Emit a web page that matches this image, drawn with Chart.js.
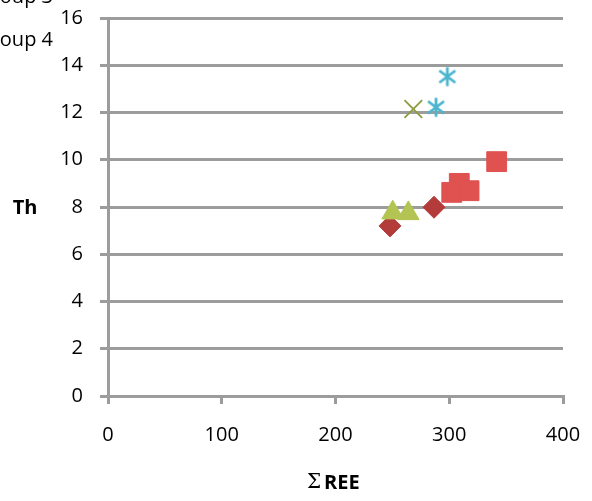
<!DOCTYPE html>
<html>
<head>
<meta charset="utf-8">
<script src="https://cdn.jsdelivr.net/npm/chart.js@4/dist/chart.umd.min.js"></script>
<style>
  html, body { margin: 0; padding: 0; background: #fff; overflow: hidden; }
  canvas { display: block; }
</style>
</head>
<body>
<canvas id="chart" width="592" height="501"></canvas>
<script>
// values
const groupNames = ["Group 1", "Group 2", "Group 3", "Group 4", "Group 5"];
const group1Ree = [247.9, 286.6];
const group1Th = [7.2, 7.99];
const group2Ree = [308.8, 302.2, 317.4, 341.7];
const group2Th = [9.0, 8.62, 8.69, 9.92];
const group3Ree = [250.3, 264.0];
const group3Th = [7.76, 7.73];
const group4Ree = [268.4];
const group4Th = [12.15];
const group5Ree = [288.4, 298.3];
const group5Th = [12.22, 13.52];
const xTicks = [0, 100, 200, 300, 400];
const yTicks = [0, 2, 4, 6, 8, 10, 12, 14, 16];

const FONT = "'Open Sans', Lato, sans-serif";
const GRID = "#9c9c9c";

function pairs(xs, ys) {
  return xs.map((x, i) => ({ x, y: ys[i] }));
}

// excel style asterisk: vertical bar plus an x
function asterisk(color) {
  const c = document.createElement("canvas");
  c.width = 22; c.height = 22;
  const g = c.getContext("2d");
  g.strokeStyle = color;
  g.lineWidth = 2.8;
  g.beginPath();
  g.moveTo(11, 1.5); g.lineTo(11, 20.5);
  g.moveTo(3, 5); g.lineTo(19, 17);
  g.moveTo(19, 5); g.lineTo(3, 17);
  g.stroke();
  return c;
}

const datasets = [
  { label: groupNames[0], data: pairs(group1Ree, group1Th), pointStyle: "rectRot", pointRadius: 11,
    backgroundColor: "#b33c3a", borderColor: "#b33c3a", borderWidth: 1, order: 5 },
  { label: groupNames[1], data: pairs(group2Ree, group2Th), pointStyle: "rect", pointRadius: 14,
    backgroundColor: "#df5250", borderColor: "#df5250", borderWidth: 1, order: 4 },
  { label: groupNames[2], data: pairs(group3Ree, group3Th), pointStyle: "triangle", pointRadius: 12.5,
    backgroundColor: "#b4c452", borderColor: "#b4c452", borderWidth: 1, order: 3 },
  { label: groupNames[3], data: pairs(group4Ree, group4Th), pointStyle: "crossRot", pointRadius: 12.5,
    backgroundColor: "#8c9c3c", borderColor: "#8c9c3c", borderWidth: 1.8, order: 2 },
  { label: groupNames[4], data: pairs(group5Ree, group5Th), pointStyle: asterisk("#4bb5ce"), pointRadius: 11,
    backgroundColor: "#4bb5ce", borderColor: "#4bb5ce", borderWidth: 0, order: 1 },
];

// axis titles and the legend that runs off the left edge
const labelsPlugin = {
  id: "labels",
  afterDraw(chart) {
    const ctx = chart.ctx;
    ctx.save();
    ctx.fillStyle = "#000";
    ctx.textBaseline = "middle";
    ctx.textAlign = "center";
    ctx.font = "bold 20px " + FONT;
    ctx.fillText("Th", 25, 208);

    ctx.textAlign = "left";
    ctx.font = "20px 'DejaVu Serif', serif";
    ctx.fillText("\u03A3", 307, 483);
    ctx.font = "bold 20px " + FONT;
    ctx.fillText("REE", 324, 483);

    ctx.textAlign = "right";
    ctx.textBaseline = "alphabetic";
    ctx.font = "20px " + FONT;
    ctx.fillText(groupNames[2], 53, 3);
    ctx.fillText(groupNames[3], 53, 46);
    ctx.restore();
  },
};

new Chart(document.getElementById("chart"), {
  type: "scatter",
  data: { datasets },
  options: {
    responsive: false,
    animation: false,
    layout: { padding: { top: 18, right: 29, left: 0, bottom: 0 } },
    plugins: { legend: { display: false }, tooltip: { enabled: false } },
    scales: {
      x: {
        type: "linear",
        min: 0,
        max: 400,
        afterBuildTicks: s => { s.ticks = xTicks.map(v => ({ value: v })); },
        afterFit: s => { s.height = 105; s.paddingLeft = 0; s.paddingRight = 0; },
        grid: { drawOnChartArea: false, color: GRID, lineWidth: 3, tickLength: 8 },
        border: { color: GRID, width: 3 },
        ticks: { color: "#000", font: { family: FONT, size: 20 }, padding: 19, maxRotation: 0 },
      },
      y: {
        type: "linear",
        min: 0,
        max: 16,
        afterBuildTicks: s => { s.ticks = yTicks.map(v => ({ value: v })); },
        afterFit: s => { s.width = 108; s.paddingTop = 0; s.paddingBottom = 0; },
        grid: { color: GRID, lineWidth: 3, tickLength: 8 },
        border: { color: GRID, width: 3 },
        ticks: { color: "#000", font: { family: FONT, size: 20 }, padding: 17 },
      },
    },
  },
  plugins: [labelsPlugin],
});
</script>
</body>
</html>
